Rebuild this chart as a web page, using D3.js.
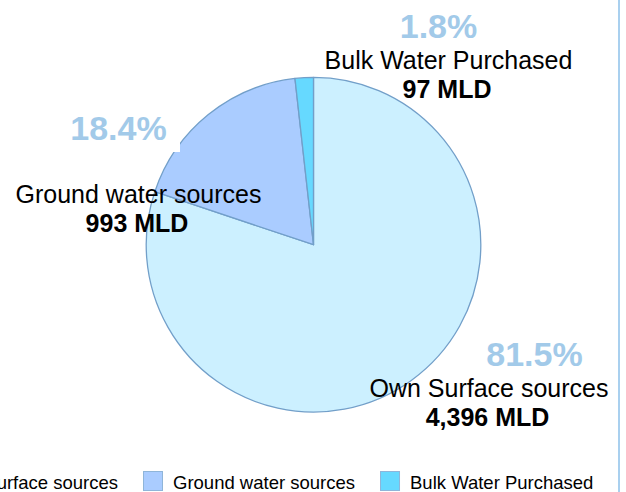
<!DOCTYPE html>
<html>
<head>
<meta charset="utf-8">
<script src="https://cdn.jsdelivr.net/npm/d3@7"></script>
<style>
  html, body { margin: 0; padding: 0; background: #fff; }
  svg { display: block; font-family: "Liberation Sans", Arial, sans-serif; }
</style>
</head>
<body>
<svg id="chart" width="626" height="492"></svg>
<script>
// ---- data ----
const categories = ["Own Surface sources", "Ground water sources", "Bulk Water Purchased"];
const values = [4396, 993, 97];
const valueLabels = ["4,396 MLD", "993 MLD", "97 MLD"];
const percentLabels = ["81.5%", "18.4%", "1.8%"];
const colors = ["#ccf0ff", "#aaccff", "#66d9ff"];

// ---- layout ----
const W = 626, H = 492;
const cx = 313.5, cy = 244.7, R = 167.3;
// label anchor positions (name baseline, percent baseline)
const labelPos = [
  { x: 489, pctX: 534.5, pctY: 366, nameY: 396.5 },
  { x: 138.5, pctX: 118.5, pctY: 140, nameY: 203 },
  { x: 448.5, pctX: 438.5, pctY: 38, nameY: 68.5 }
];

const svg = d3.select("#chart");

const pie = d3.pie().sort(null).value(d => d)(values);
const arc = d3.arc().innerRadius(0).outerRadius(R);

const g = svg.append("g").attr("transform", `translate(${cx},${cy})`);
g.selectAll("path").data(pie).join("path")
  .attr("d", arc)
  .attr("fill", (d, i) => colors[i])
  .attr("stroke", "#729fc9")
  .attr("stroke-width", 1.3)
  .attr("stroke-linejoin", "round");

// white background behind the 18.4% label (overlaps pie edge slightly)
svg.append("rect")
  .attr("x", 60).attr("y", 100).attr("width", 120).attr("height", 52)
  .attr("fill", "#fff");

const labels = svg.append("g");
categories.forEach((c, i) => {
  const p = labelPos[i];
  labels.append("text")
    .attr("x", p.pctX).attr("y", p.pctY)
    .attr("text-anchor", "middle")
    .attr("font-size", 34).attr("font-weight", "bold")
    .attr("fill", "#a2cae9")
    .text(percentLabels[i]);
  labels.append("text")
    .attr("x", p.x).attr("y", p.nameY)
    .attr("text-anchor", "middle")
    .attr("font-size", 25).attr("fill", "#000")
    .text(c);
  labels.append("text")
    .attr("x", p.x - 1.5).attr("y", p.nameY + 29)
    .attr("text-anchor", "middle")
    .attr("font-size", 25).attr("font-weight", "bold").attr("fill", "#000")
    .text(valueLabels[i]);
});

// ---- legend ----
const legend = svg.append("g");
const fontSize = 18.5, sw = 20, gapText = 10, gapItem = 25;
// measure
const tmp = svg.append("text").attr("font-size", fontSize);
const widths = categories.map(c => { tmp.text(c); return tmp.node().getComputedTextLength(); });
tmp.remove();
// anchor: second item swatch at x=143
let xs = [];
let x1 = 143;
xs[1] = x1;
xs[0] = x1 - gapItem - widths[0] - gapText - sw;
xs[2] = x1 + sw + gapText + widths[1] + gapItem;
categories.forEach((c, i) => {
  legend.append("rect")
    .attr("x", xs[i] + 0.5).attr("y", 471.5)
    .attr("width", sw - 1).attr("height", sw - 1)
    .attr("fill", colors[i])
    .attr("stroke", "#8fb5d9").attr("stroke-width", 1);
  legend.append("text")
    .attr("x", xs[i] + sw + gapText).attr("y", 488.5)
    .attr("font-size", fontSize).attr("fill", "#000")
    .text(c);
});

// right border line
svg.append("line")
  .attr("x1", 619).attr("x2", 619).attr("y1", 0).attr("y2", H)
  .attr("stroke", "#a9d0ef").attr("stroke-width", 2);
</script>
</body>
</html>
